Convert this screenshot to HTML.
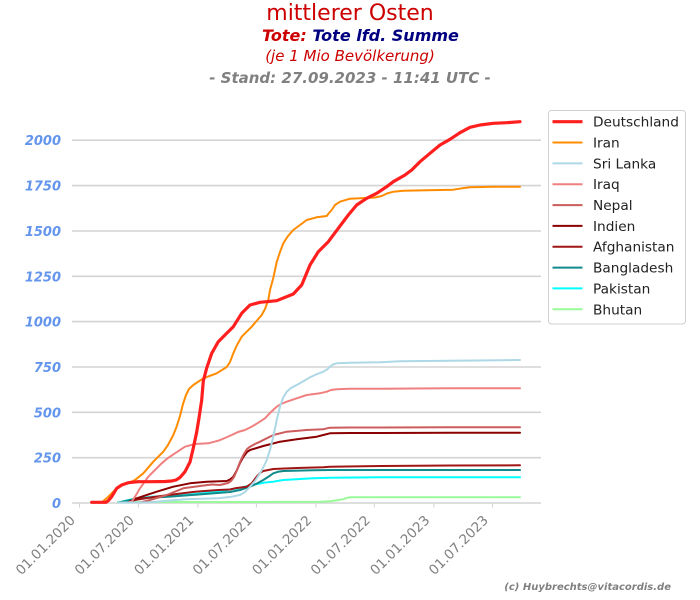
<!DOCTYPE html>
<html>
<head>
<meta charset="utf-8">
<style>
  html,body{margin:0;padding:0;background:#fff;}
  svg{display:block;}
  text{font-family:"DejaVu Sans","Liberation Sans",sans-serif;}
</style>
</head>
<body>
<svg width="700" height="600" viewBox="0 0 700 600" xmlns="http://www.w3.org/2000/svg">
  <rect x="0" y="0" width="700" height="600" fill="#fff"/>

  <!-- Titles -->
  <text x="350" y="20" font-size="22" fill="#cc0000" text-anchor="middle">mittlerer Osten</text>
  <text x="262" y="41" font-size="16" font-weight="bold" font-style="oblique"><tspan fill="#cc0000">Tote:</tspan><tspan fill="#000080"> Tote lfd. Summe</tspan></text>
  <text x="350" y="61" font-size="15" font-style="oblique" fill="#cc0000" text-anchor="middle">(je 1 Mio Bevölkerung)</text>
  <text x="350" y="83" font-size="15" font-weight="bold" font-style="oblique" fill="#808080" text-anchor="middle">- Stand: 27.09.2023 - 11:41 UTC -</text>

  <!-- Gridlines -->
  <g stroke="#d3d3d3" stroke-width="1.6">
    <line x1="72" y1="140.2" x2="541" y2="140.2"/>
    <line x1="72" y1="185.6" x2="541" y2="185.6"/>
    <line x1="72" y1="231" x2="541" y2="231"/>
    <line x1="72" y1="276.3" x2="541" y2="276.3"/>
    <line x1="72" y1="321.6" x2="541" y2="321.6"/>
    <line x1="72" y1="367" x2="541" y2="367"/>
    <line x1="72" y1="412.3" x2="541" y2="412.3"/>
    <line x1="72" y1="457.7" x2="541" y2="457.7"/>
    <line x1="72" y1="503" x2="541" y2="503"/>
  </g>
  <!-- x ticks -->
  <g stroke="#d3d3d3" stroke-width="1">
    <line x1="79.5" y1="503" x2="79.5" y2="507.5"/>
    <line x1="138.4" y1="503" x2="138.4" y2="507.5"/>
    <line x1="197.9" y1="503" x2="197.9" y2="507.5"/>
    <line x1="256.4" y1="503" x2="256.4" y2="507.5"/>
    <line x1="315.9" y1="503" x2="315.9" y2="507.5"/>
    <line x1="374.4" y1="503" x2="374.4" y2="507.5"/>
    <line x1="433.9" y1="503" x2="433.9" y2="507.5"/>
    <line x1="492.5" y1="503" x2="492.5" y2="507.5"/>
  </g>

  <!-- Y labels -->
  <g font-size="13" font-weight="bold" font-style="oblique" fill="#6495ed" text-anchor="end">
    <text x="61" y="145">2000</text>
    <text x="61" y="190.5">1750</text>
    <text x="61" y="236">1500</text>
    <text x="61" y="281.3">1250</text>
    <text x="61" y="326.6">1000</text>
    <text x="61" y="372">750</text>
    <text x="61" y="417.3">500</text>
    <text x="61" y="462.7">250</text>
    <text x="61" y="508">0</text>
  </g>

  <!-- X labels -->
  <g font-size="13.5" fill="#808080" text-anchor="end">
    <text transform="translate(76,521) rotate(-45)">01.01.2020</text>
    <text transform="translate(134.9,521) rotate(-45)">01.07.2020</text>
    <text transform="translate(194.4,521) rotate(-45)">01.01.2021</text>
    <text transform="translate(252.9,521) rotate(-45)">01.07.2021</text>
    <text transform="translate(312.4,521) rotate(-45)">01.01.2022</text>
    <text transform="translate(370.9,521) rotate(-45)">01.07.2022</text>
    <text transform="translate(430.4,521) rotate(-45)">01.01.2023</text>
    <text transform="translate(489,521) rotate(-45)">01.07.2023</text>
  </g>

  <!-- Series -->
  <g fill="none" stroke-linejoin="round" stroke-linecap="round">
    <!-- Bhutan -->
    <polyline stroke="#98fb98" stroke-width="2" points="118,502 250,502 320,501.8 330,501.2 337,500.3 343.3,499.2 347,497.8 350,497.3 380,497.3 520,497.3"/>
    <!-- Pakistan -->
    <polyline stroke="#00ffff" stroke-width="2" points="118.3,502.5 131.7,499.3 151.7,496.7 185,495 218.3,491.7 230,489.5 238.3,488.3 251.7,485 265,482.5 273.3,481.7 283.3,480 313.3,478.3 330,477.7 380,477.3 520,477.3"/>
    <!-- Bangladesh -->
    <polyline stroke="#108a8a" stroke-width="2" points="118.3,502.5 138.3,498.3 168.3,496.7 201.7,494.3 230,492 240,490 250,486.7 256,484 263.3,480 268,477 273.3,473.3 278,471.8 283.3,471 313.3,470.3 330,470 380,470 520,470"/>
    <!-- Afghanistan -->
    <polyline stroke="#a01515" stroke-width="2" points="128,502.5 135,500 150,497.5 168.3,495 195,491.7 218.3,490 230,489.5 235,488.3 246.7,486.7 251.7,483.3 256.7,476.7 260,473 263.3,471 273.3,469 296.7,468 323.3,467.3 330,466.7 380,466 450,465.5 520,465.3"/>
    <!-- Indien -->
    <polyline stroke="#8b0000" stroke-width="2" points="128,502.5 136.7,498.3 156.7,491.7 173.3,486.7 190,483.3 206.7,481.7 220,481.2 226.7,481 230,479.5 233.3,476.7 237,470 240,463 243.3,457 247,452 250,450 263.3,446 280,441.7 296.7,439.3 316.7,436.7 323.3,435 330,433.3 350,433 380,433 450,432.8 520,432.7"/>
    <!-- Nepal -->
    <polyline stroke="#cd5c5c" stroke-width="2" points="140,502.5 150,500 166.7,495 183.3,488.3 200,486 211.7,484.5 220,485 228,483 231,481 234,477 237,470 240,462 243.3,455 247,449 250,446.7 255,444 260,441.7 273.3,435 286.7,431.7 306.7,430 323.3,429.3 327,428.3 330,427.7 350,427.5 380,427.5 450,427.3 520,427.3"/>
    <!-- Iraq -->
    <polyline stroke="#f08080" stroke-width="2" points="128,502.5 131.7,501.7 135,496.7 140,488.3 148.3,476.7 155,470 161.7,463.3 168,458 175,453.3 185,446.7 195,444 208.3,443.3 218.3,440.7 225,438 231.7,435 238,432 245,430 252,426.5 258.3,422.7 265,418.3 268,415 272,411 276.7,406.7 281,404 286.7,401.7 296.7,398.3 306.7,395 320,393.3 326.7,391.7 331,390 336.7,389.3 350,388.7 380,388.7 450,388.3 520,388.2"/>
    <!-- Sri Lanka -->
    <polyline stroke="#add8e6" stroke-width="2" points="118,502.5 150,502.3 185,499.3 218.3,498.3 231.7,496.7 240,495 245,492 250,486.7 255,481 260,473.3 263.5,467 266.7,460 270,450 273.3,436.7 276.7,420 280,406.7 283,398 286.7,391.7 291,388 296.7,385 303,381.5 310,377.3 316,374.5 323.3,371.7 327,369.5 330,366.7 333,364.5 336.7,363.3 350,362.7 380,362.3 400,361.2 450,360.7 500,360.2 520,360"/>
    <!-- Iran -->
    <polyline stroke="#ff8c00" stroke-width="2" points="101.7,502.5 104,500.5 108.3,496.7 115,490 121.7,485.5 128,483 135,480 143.3,473.3 153.3,461.7 163.3,451.7 168,445 173.3,435 176.5,427 180,416 183,404 186,395 189,389 193.3,385 203.3,378.3 216.7,373.3 226.7,367 230,362 233.3,353.3 237,345 241.7,336.7 251.7,326.7 261.7,315 265,309 268.3,300 270,290 273.3,278 276.7,262 280,252 283.3,243.3 288,236 293.3,230 300,225 306.7,220 316.7,217.3 326.7,216 329,213 331.7,210 335,205 340,201.7 350,198.7 370,197.7 375,197.5 381.7,196 387,193.5 393.3,191.7 403.3,190.7 426.7,190.3 453.3,189.7 462,188.3 470,187.3 493.3,186.7 520,186.7"/>
    <!-- Deutschland -->
    <polyline stroke="#ff1f1f" stroke-width="3.2" points="91.7,502.3 106,502.3 108.5,500.5 111.7,496.7 116.7,488.3 121.7,485 128.3,482.7 138.3,481.7 151.7,481.7 165,481.5 171.7,481 176,480 180,477.5 185,471.7 190,462 193.3,448 196.7,432 199,418 201.7,400 203.3,381 206.7,368 211.7,353.3 218.3,341.7 226.7,333.3 233.3,326.7 241.7,313.3 250,305 260,302.3 276.7,300.7 293.3,294 301.7,285 310,265 318.3,251.7 328.3,241.7 338.3,228.3 348.3,215 356.7,205 366.7,198.3 376.7,193.3 386.7,186.7 393.3,181.7 405,175 411.7,170 420,161.7 430,153.3 440,145 450,139.3 460,132.7 470,127.3 480,125 493.3,123.3 506.7,122.7 520,121.7"/>
  </g>

  <!-- Legend -->
  <rect x="548.5" y="110.5" width="137" height="213.5" rx="3" ry="3" fill="#fff" fill-opacity="0.9" stroke="#d0d0d0" stroke-width="1"/>
  <g stroke-linecap="butt">
    <line x1="552.5" y1="121.7" x2="582.5" y2="121.7" stroke="#ff1f1f" stroke-width="3.2"/>
    <line x1="552.5" y1="142.5" x2="582.5" y2="142.5" stroke="#ff8c00" stroke-width="2"/>
    <line x1="552.5" y1="163.4" x2="582.5" y2="163.4" stroke="#add8e6" stroke-width="2"/>
    <line x1="552.5" y1="184.2" x2="582.5" y2="184.2" stroke="#f08080" stroke-width="2"/>
    <line x1="552.5" y1="205.1" x2="582.5" y2="205.1" stroke="#cd5c5c" stroke-width="2"/>
    <line x1="552.5" y1="225.9" x2="582.5" y2="225.9" stroke="#8b0000" stroke-width="2"/>
    <line x1="552.5" y1="246.7" x2="582.5" y2="246.7" stroke="#a01515" stroke-width="2"/>
    <line x1="552.5" y1="267.6" x2="582.5" y2="267.6" stroke="#108a8a" stroke-width="2"/>
    <line x1="552.5" y1="288.4" x2="582.5" y2="288.4" stroke="#00ffff" stroke-width="2"/>
    <line x1="552.5" y1="309.3" x2="582.5" y2="309.3" stroke="#98fb98" stroke-width="2"/>
  </g>
  <g font-size="13.7" fill="#222">
    <text x="593" y="126.7">Deutschland</text>
    <text x="593" y="147.5">Iran</text>
    <text x="593" y="168.4">Sri Lanka</text>
    <text x="593" y="189.2">Iraq</text>
    <text x="593" y="210.1">Nepal</text>
    <text x="593" y="230.9">Indien</text>
    <text x="593" y="251.7">Afghanistan</text>
    <text x="593" y="272.6">Bangladesh</text>
    <text x="593" y="293.4">Pakistan</text>
    <text x="593" y="314.3">Bhutan</text>
  </g>

  <!-- Copyright -->
  <text x="671" y="590" font-size="10" font-weight="bold" font-style="oblique" fill="#808080" text-anchor="end">(c) Huybrechts@vitacordis.de</text>
</svg>
</body>
</html>
